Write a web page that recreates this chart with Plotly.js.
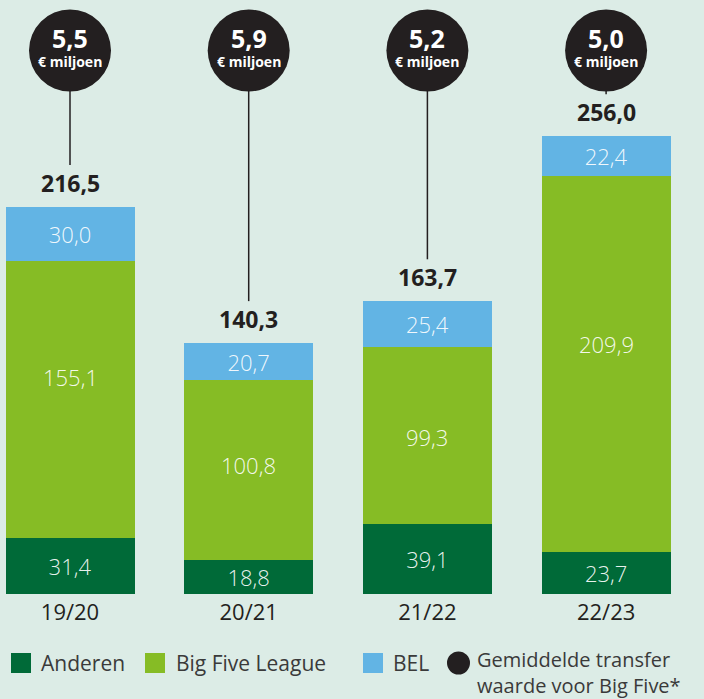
<!DOCTYPE html>
<html>
<head>
<meta charset="utf-8">
<script src="https://cdn.plot.ly/plotly-3.0.1.min.js"></script>
<style>
  html, body { margin: 0; padding: 0; background: #dcece6; }
  #chart { width: 704px; height: 699px; }
</style>
</head>
<body>
<div id="chart"></div>
<script>
// ---- data ----
const seasons = ['19/20', '20/21', '21/22', '22/23'];
const anderen = [31.4, 18.8, 39.1, 23.7];
const bigFive = [155.1, 100.8, 99.3, 209.9];
const bel = [30.0, 20.7, 25.4, 22.4];
const totals = [216.5, 140.3, 163.7, 256.0];
const avgBigFive = [5.5, 5.9, 5.2, 5.0];
const seriesNames = ['Anderen', 'Big Five League', 'BEL'];
const avgLabelLines = ['Gemiddelde transfer', 'waarde voor Big Five*'];
const unitLabel = '€ miljoen';

// ---- styling / layout constants ----
const BG = '#dcece6';
const C_AND = '#006a38';
const C_BIG = '#86bc25';
const C_BEL = '#62b4e4';
const C_DARK = '#231f20';
const C_SEG = 'rgba(255,255,255,0.92)';
const FONT = '"Open Sans", "Noto Sans", sans-serif';
const W = 704, H = 699;
const PLOT_H = 594;            // pixel y of the baseline
const PX_PER_UNIT = 1.788;
const YMAX = PLOT_H / PX_PER_UNIT;
const SLOT = 178.7;            // px per category
const FIRST_CENTER = 70;       // px
const xr0 = -FIRST_CENTER / SLOT;
const xr1 = xr0 + W / SLOT;
const BIG_LABEL_SHIFT = [22, 5, -2, 20];  // pixel nudges of the Big Five labels (as in the original)
const py = p => (PLOT_H - p) / PLOT_H;   // pixel y -> paper y
const px = p => p / W;                    // pixel x -> paper x
const fmt = v => v.toFixed(1).replace('.', ',');

function barTrace(name, vals, color, withText) {
  const t = {
    type: 'bar', name: name, x: seasons, y: vals,
    marker: { color: color, line: { width: 0 } },
    hoverinfo: 'skip'
  };
  if (withText) {
    Object.assign(t, {
      texttemplate: '%{y:.1f}', textposition: 'inside',
      insidetextanchor: 'middle', constraintext: 'none', textangle: 0,
      textfont: { family: FONT, size: 22, color: C_SEG, weight: 300 }
    });
  } else {
    t.textposition = 'none';
  }
  return t;
}

const traces = [
  barTrace(seriesNames[0], anderen, C_AND, true),
  barTrace(seriesNames[1], bigFive, C_BIG, false),
  barTrace(seriesNames[2], bel, C_BEL, true)
];

const shapes = [];
const annotations = [];
const CIRCLE_CY = 50.5, CIRCLE_R = 41;

seasons.forEach((s, i) => {
  // Big Five segment label
  annotations.push({
    xref: 'x', yref: 'y', x: s, y: anderen[i] + bigFive[i] / 2,
    yanchor: 'middle', yshift: BIG_LABEL_SHIFT[i],
    text: fmt(bigFive[i]), showarrow: false,
    font: { family: FONT, size: 22, color: C_SEG, weight: 300 }
  });
  // connector line
  shapes.push({
    type: 'line', xref: 'x', yref: 'y', x0: s, x1: s,
    y0: totals[i] + 23.5, y1: (PLOT_H - CIRCLE_CY) / PX_PER_UNIT,
    line: { color: C_DARK, width: 1.5 }, layer: 'above'
  });
  // circle
  shapes.push({
    type: 'circle', xref: 'x', yref: 'paper',
    xsizemode: 'pixel', ysizemode: 'pixel',
    xanchor: s, yanchor: py(CIRCLE_CY),
    x0: -CIRCLE_R, x1: CIRCLE_R, y0: -CIRCLE_R, y1: CIRCLE_R,
    fillcolor: C_DARK, line: { width: 0 }, layer: 'above'
  });
  // circle value
  annotations.push({
    xref: 'x', yref: 'paper', x: s, y: py(38.5), yanchor: 'middle',
    text: '<b>' + fmt(avgBigFive[i]) + '</b>', showarrow: false,
    font: { family: FONT, size: 25, color: '#ffffff' }
  });
  annotations.push({
    xref: 'x', yref: 'paper', x: s, y: py(62), yanchor: 'middle',
    text: '<b>' + unitLabel + '</b>', showarrow: false,
    font: { family: FONT, size: 14, color: '#ffffff' }
  });
  // total label
  annotations.push({
    xref: 'x', yref: 'y', x: s, y: totals[i], yanchor: 'middle', yshift: 24,
    text: '<b>' + fmt(totals[i]) + '</b>', showarrow: false,
    font: { family: FONT, size: 23, color: C_DARK }
  });
});

// ---- custom legend ----
const LEG_Y = 663;
const LEG_FONT = { family: FONT, size: 21, color: '#3a3a3a' };
const legendItems = [
  { color: C_AND, sq: 11, tx: 41, label: seriesNames[0] },
  { color: C_BIG, sq: 145, tx: 176, label: seriesNames[1] },
  { color: C_BEL, sq: 363, tx: 393, label: seriesNames[2] }
];
legendItems.forEach(it => {
  shapes.push({
    type: 'rect', xref: 'paper', yref: 'paper',
    x0: px(it.sq), x1: px(it.sq + 20), y0: py(LEG_Y + 10), y1: py(LEG_Y - 10),
    fillcolor: it.color, line: { width: 0 }
  });
  annotations.push({
    xref: 'paper', yref: 'paper', x: px(it.tx - 2), y: py(LEG_Y), xanchor: 'left', yanchor: 'middle',
    text: it.label, showarrow: false, font: LEG_FONT
  });
});
shapes.push({
  type: 'circle', xref: 'paper', yref: 'paper',
  xsizemode: 'pixel', ysizemode: 'pixel', xanchor: px(458.5), yanchor: py(LEG_Y),
  x0: -11.5, x1: 11.5, y0: -11.5, y1: 11.5,
  fillcolor: C_DARK, line: { width: 0 }
});
annotations.push({
  xref: 'paper', yref: 'paper', x: px(476), y: py(672), xanchor: 'left', yanchor: 'middle',
  text: avgLabelLines.join('<br>'), align: 'left', showarrow: false, borderpad: 0,
  font: { family: FONT, size: 20, color: '#3a3a3a' }
});

const layout = {
  width: W, height: H,
  margin: { l: 0, r: 0, t: 0, b: H - PLOT_H, pad: 0 },
  paper_bgcolor: BG, plot_bgcolor: BG,
  barmode: 'stack', bargap: 1 - 129 / SLOT,
  showlegend: false,
  separators: ',.',
  font: { family: FONT, color: C_DARK },
  xaxis: {
    type: 'category', range: [xr0, xr1], fixedrange: true,
    showgrid: false, zeroline: false, showline: false, ticks: '',
    ticklabelstandoff: 3,
    tickfont: { family: FONT, size: 22, color: C_DARK }
  },
  yaxis: {
    range: [0, YMAX], fixedrange: true,
    showgrid: false, zeroline: false, showline: false, showticklabels: false, ticks: ''
  },
  shapes: shapes,
  annotations: annotations
};

Plotly.newPlot('chart', traces, layout, { staticPlot: true, displayModeBar: false });
</script>
</body>
</html>
